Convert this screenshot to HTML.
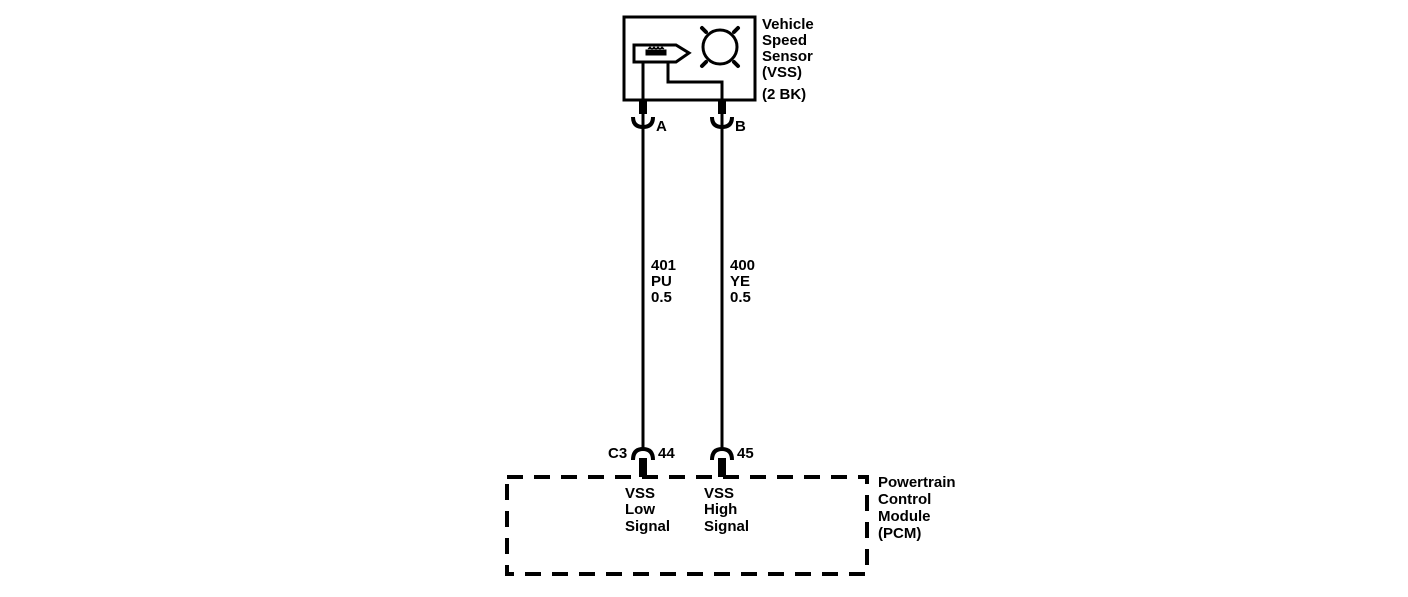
<!DOCTYPE html>
<html><head><style>
html,body{margin:0;padding:0;background:#fff;}
svg text{font-family:"Liberation Sans",Arial,sans-serif;font-size:15px;fill:#000;font-weight:bold;}
</style></head><body>
<svg width="1408" height="592" viewBox="0 0 1408 592" xmlns="http://www.w3.org/2000/svg">
<g fill="none" stroke="#000" stroke-width="3">
<rect x="624" y="17" width="131" height="83"/>
<circle cx="720" cy="47" r="17"/>
<path d="M634 45 H676 L689 53 L676 62 H634 Z"/>
<path d="M643 62 V100 M668 62 V82 H722 V100"/>
<path d="M643 113 V448 M722 113 V448"/>
<g stroke-width="4">
<path d="M633 117 Q633 127 643 127 Q653 127 653 117"/>
<path d="M712 117 Q712 127 722 127 Q732 127 732 117"/>
<path d="M633 460 Q633 449 643 449 Q653 449 653 460"/>
<path d="M712 460 Q712 449 722 449 Q732 449 732 460"/>
</g>
<rect x="507" y="477" width="360" height="97" stroke-width="4" stroke-dasharray="16 11"/>
</g>
<g stroke="#000" stroke-width="4" stroke-linecap="round">
<line x1="706" y1="32" x2="702" y2="28"/><line x1="734" y1="32" x2="738" y2="28"/>
<line x1="706" y1="62" x2="702" y2="66"/><line x1="734" y1="62" x2="738" y2="66"/>
</g>
<path d="M646 50 h20 v5 h-20z M648 49 l2 -2 l2 2 l2 -2 l2 2 l2 -2 l2 2 l2 -2 l2 2" fill="#000" stroke="#000" stroke-width="1"/>
<g fill="#000">
<rect x="639" y="100" width="8" height="14"/><rect x="718" y="100" width="8" height="14"/>
<rect x="639" y="458" width="8" height="19"/><rect x="718" y="458" width="8" height="19"/>
</g>
<text x="762" y="29">Vehicle</text>
<text x="762" y="45">Speed</text>
<text x="762" y="61">Sensor</text>
<text x="762" y="77">(VSS)</text>
<text x="762" y="99">(2 BK)</text>
<text x="656" y="131">A</text>
<text x="735" y="131">B</text>
<text x="651" y="270">401</text><text x="651" y="286">PU</text><text x="651" y="302">0.5</text>
<text x="730" y="270">400</text><text x="730" y="286">YE</text><text x="730" y="302">0.5</text>
<text x="608" y="458">C3</text>
<text x="658" y="458">44</text>
<text x="737" y="458">45</text>
<text x="625" y="498">VSS</text><text x="625" y="514">Low</text><text x="625" y="531">Signal</text>
<text x="704" y="498">VSS</text><text x="704" y="514">High</text><text x="704" y="531">Signal</text>
<text x="878" y="487">Powertrain</text><text x="878" y="504">Control</text><text x="878" y="521">Module</text><text x="878" y="538">(PCM)</text>
</svg>
</body></html>
